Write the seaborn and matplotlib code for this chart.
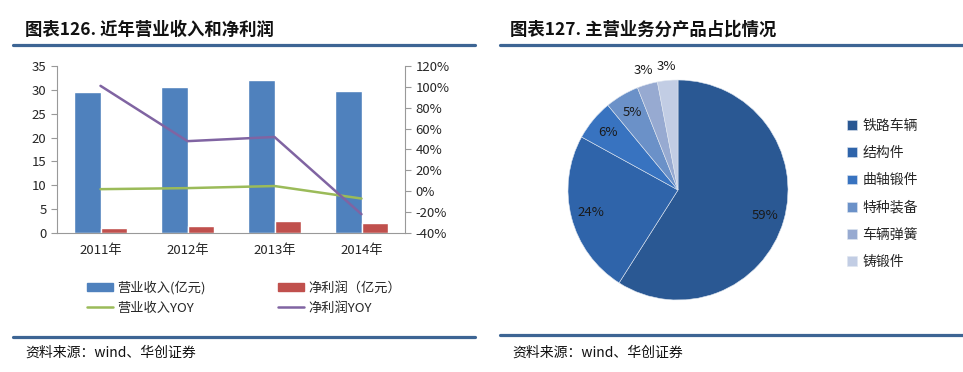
import numpy as np
import pandas as pd
import matplotlib
matplotlib.use("Agg")
import matplotlib.pyplot as plt
import seaborn as sns
from matplotlib.lines import Line2D
from matplotlib.patches import Patch

# left chart data
years = ["2011年", "2012年", "2013年", "2014年"]
revenue = [29.5, 30.7, 32.0, 29.8]
net_profit = [1.1, 1.5, 2.6, 2.0]
revenue_yoy = [2, 3, 5, -7]
profit_yoy = [101, 48, 52, -22]

# right chart data
products = ["铁路车辆", "结构件", "曲轴锻件", "特种装备", "车辆弹簧", "铸锻件"]
shares = [59, 24, 6, 5, 3, 3]

sns.set_style("white")
plt.rcParams['font.family'] = ['Noto Sans CJK SC', 'DejaVu Sans']

W, H = 963, 372
fig = plt.figure(figsize=(W / 100, H / 100), dpi=100)

def box(x0, y0, x1, y1):
    # pixel box (top-left origin) -> figure fraction
    return [x0 / W, 1 - y1 / H, (x1 - x0) / W, (y1 - y0) / H]

def hline(x0, x1, y):
    fig.add_artist(Line2D([x0 / W, x1 / W], [1 - y / H, 1 - y / H],
                          color="#3d6594", lw=2.3, transform=fig.transFigure))

# titles, rules, sources
fig.text(25 / W, 1 - 30 / H, "图表126. 近年营业收入和净利润", fontsize=12.5,
         fontweight="bold", va="center", color="#111111")
fig.text(510 / W, 1 - 30 / H, "图表127. 主营业务分产品占比情况", fontsize=12.5,
         fontweight="bold", va="center", color="#111111")
hline(13, 475, 45)
hline(500, 963, 45)
hline(13, 475, 337)
hline(500, 963, 335)
fig.text(25 / W, 1 - 353 / H, "资料来源：wind、华创证券", fontsize=10,
         style="italic", va="center", color="#111111")
fig.text(512 / W, 1 - 353 / H, "资料来源：wind、华创证券", fontsize=10,
         style="italic", va="center", color="#111111")

# ---- left: bars + yoy lines
blue, red, green, purple = "#4f81bd", "#c0504d", "#9bbb59", "#8064a2"
ax = fig.add_axes(box(57, 66, 405, 233))
df = pd.DataFrame({
    "year": years * 2,
    "value": revenue + net_profit,
    "series": ["营业收入(亿元)"] * 4 + ["净利润（亿元）"] * 4,
})
sns.barplot(data=df, x="year", y="value", hue="series", palette=[blue, red],
            width=0.6, ax=ax, legend=False, saturation=1)
ax.set_ylim(0, 35)
ax.set_yticks(range(0, 36, 5))
ax.set_xlim(-0.5, 3.5)
ax.set_xlabel("")
ax.set_ylabel("")
ax.set_xticks([-0.5, 0.5, 1.5, 2.5, 3.5])
ax.set_xticklabels([])
ax.set_xticks(range(4), minor=True)
ax.set_xticklabels(years, minor=True)
ax.tick_params(axis="x", which="minor", length=0, labelsize=9.5, pad=8)
ax.tick_params(axis="x", which="major", length=4, color="#999999", direction="out")
ax.tick_params(axis="y", length=4, color="#999999", labelsize=9.5, direction="out", left=True)
for s in ["top", "right"]:
    ax.spines[s].set_visible(False)
for s in ["left", "bottom"]:
    ax.spines[s].set_color("#999999")
    ax.spines[s].set_linewidth(0.8)

ax2 = ax.twinx()
pos = np.arange(len(years))
sns.lineplot(x=pos, y=revenue_yoy, color=green, lw=1.8, ax=ax2)
sns.lineplot(x=pos, y=profit_yoy, color=purple, lw=1.8, ax=ax2)
ax2.set_ylim(-40, 120)
ax2.set_yticks(range(-40, 121, 20))
ax2.set_yticklabels([f"{v}%" for v in range(-40, 121, 20)])
ax2.tick_params(axis="y", length=4, color="#999999", labelsize=9.5, direction="out", right=True)
for s in ["top", "left", "bottom"]:
    ax2.spines[s].set_visible(False)
ax2.spines["right"].set_color("#999999")
ax2.spines["right"].set_linewidth(0.8)

handles = [Patch(color=blue), Line2D([], [], color=green, lw=1.8),
           Patch(color=red), Line2D([], [], color=purple, lw=1.8)]
labels = ["营业收入(亿元)", "营业收入YOY", "净利润（亿元）", "净利润YOY"]
fig.legend(handles, labels, ncol=2, loc="upper left", bbox_to_anchor=(80 / W, 1 - 274 / H),
           frameon=False, fontsize=9.5, handlelength=2.0, handleheight=0.6,
           handletextpad=0.3, columnspacing=5.5, labelspacing=0.55, borderpad=0)

# ---- right: pie
pie_colors = ["#2a5893", "#2f64aa", "#3873c0", "#6b91c8", "#97aad1", "#c2cde4"]
pax = fig.add_axes(box(568, 80, 788, 300))
wedges, texts, autotexts = pax.pie(shares, colors=pie_colors, startangle=90, counterclock=False,
                                   autopct=lambda p: f"{round(p)}%", pctdistance=0.82,
                                   wedgeprops=dict(edgecolor="#dfe6f0", linewidth=0.4),
                                   textprops=dict(fontsize=9.5, color="#1a1a1a"))
for t in autotexts[4:]:
    x, y = t.get_position()
    r = np.hypot(x, y)
    t.set_position((x / r * 1.13, y / r * 1.13))
pax.set_xlim(-1, 1)
pax.set_ylim(-1, 1)
pax.set_aspect("equal")

fig.legend(wedges, products, loc="upper left", bbox_to_anchor=(840 / W, 1 - 112 / H),
           frameon=False, fontsize=10, handlelength=0.7, handleheight=0.7,
           handletextpad=0.4, labelspacing=0.95, borderpad=0)

fig.savefig("out.png", dpi=100)
